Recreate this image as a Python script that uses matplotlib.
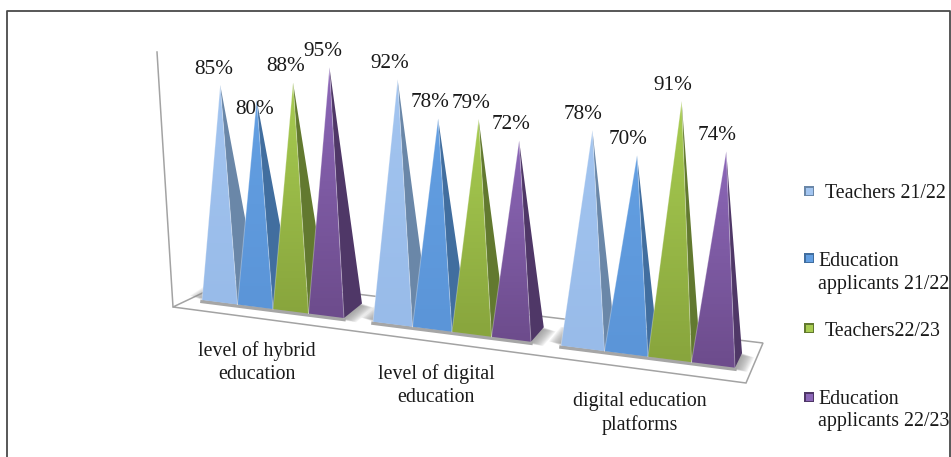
import numpy as np
import matplotlib
matplotlib.use('Agg')
import matplotlib.pyplot as plt
from matplotlib.patches import Polygon, Rectangle

plt.rcParams['font.family'] = ['Liberation Serif', 'DejaVu Serif']

categories = ['level of hybrid\neducation', 'level of digital\neducation',
              'digital education\nplatforms']
series = ['Teachers 21/22', 'Education\napplicants 21/22', 'Teachers22/23',
          'Education\napplicants 22/23']
teachers_2122 = [85, 92, 78]
applicants_2122 = [80, 78, 70]
teachers_2223 = [88, 79, 91]
applicants_2223 = [95, 72, 74]
values = [teachers_2122, applicants_2122, teachers_2223, applicants_2223]

# front colour top, front colour bottom, side
cols = [('#a3c5f0', '#98bbe9', '#6a87a8'),
        ('#639fe2', '#5b95d8', '#416e9f'),
        ('#a8cc51', '#88a53d', '#62792f'),
        ('#8c67b8', '#6d4c8c', '#4f3767')]

W, H = 951, 457


def front_y(x):
    return 300 + (x - 202) * 0.127


def gradient_poly(ax, pts, top, bottom, z):
    # vertical gradient clipped to the polygon
    pts = np.array(pts)
    c = matplotlib.colors.LinearSegmentedColormap.from_list('g', [top, bottom])
    im = ax.imshow(np.linspace(0, 1, 64).reshape(-1, 1), cmap=c, aspect='auto',
                   extent=[pts[:, 0].min(), pts[:, 0].max(), pts[:, 1].max(), pts[:, 1].min()],
                   zorder=z)
    p = Polygon(pts, closed=True, transform=ax.transData, fc='none', ec='none', zorder=z)
    ax.add_patch(p)
    im.set_clip_path(p)


def soft_shadow(ax, corners, z):
    corners = np.array(corners)
    mid = corners.mean(axis=0)
    sign = np.sign(corners - mid)
    for k in range(12, 0, -1):
        ax.add_patch(Polygon(corners + sign * [k, k * 0.35], closed=True,
                             fc='#8c8c8c', ec='none', alpha=0.1, zorder=z))


fig = plt.figure(figsize=(W / 100, H / 100), dpi=100)
ax = fig.add_axes([0, 0, 1, 1])

# outer frame
ax.plot([6.5, 6.5, 950, 950], [H, 11, 11, H], color='#4a4a4a', lw=1.3, zorder=1)

# floor and wall
ax.add_patch(Polygon([(173, 307), (746, 383), (763, 343), (232, 279)], closed=True,
                     fc='white', ec='#a3a3a3', lw=1.1, zorder=2))
ax.plot([157, 173], [52, 307], color='#a3a3a3', lw=1.1, zorder=2)

z = 10
for c in range(len(categories)):
    left = 202 + 171 * c + 8.5 * c * (c - 1)
    w = 35.5 + 4 * c
    edges = [left + w * i for i in range(5)]

    # shadow under the whole group
    x0, x1 = edges[0], edges[-1]
    d0 = 18 - (x0 - 344) * 0.028
    d1 = 18 - (x1 - 344) * 0.028
    soft_shadow(ax, [(x0, front_y(x0)), (x1, front_y(x1)),
                     (x1 + d1, front_y(x1) - 14.5), (x0 + d0, front_y(x0) - 14.5)], 3)
    ax.plot([x0, x1], [front_y(x0) + 1.5, front_y(x1) + 1.5], color='#a6a6a6', lw=2.5, zorder=4)

    for s in range(len(series)):
        xl, xr = edges[s], edges[s + 1]
        yl, yr = front_y(xl), front_y(xr)
        dx = 18 - (xr - 344) * 0.028
        bx, by = xr + dx, yr - 14.5
        cx = (xl + xr) / 2 + dx / 2
        cy = (yl + yr) / 2 - 7.25
        scale = 2.47 + (cx - 230) * 0.00065
        ax_x = cx + (cx - 480) * 0.04
        ax_y = cy - values[s][c] * scale

        col = cols[s]
        ax.add_patch(Polygon([(ax_x, ax_y), (xr, yr), (bx, by)], closed=True,
                             fc=col[2], ec='none', zorder=z))
        gradient_poly(ax, [(ax_x, ax_y), (xl, yl), (xr, yr)], col[0], col[1], z + 1)
        ax.plot([xl, ax_x, xr], [yl, ax_y, yr], color='white', lw=0.7, alpha=0.3, zorder=z + 2)
        z += 3

        # value label above the tip, the 80% one sits lower and touches it
        ly = ax_y - 16
        lx = ax_x - 7 - c
        if values[s][c] == 80:
            ly, lx = ax_y + 9, ax_x - 2
        ax.text(lx, ly, '%d%%' % values[s][c], ha='center', va='center',
                fontsize=15.3, color='#1a1a1a', zorder=500)

# category labels
cat_x = [257, 436, 640]
cat_y = [362.5, 385.5, 413.5]
for x, y, lab in zip(cat_x, cat_y, categories):
    ax.text(x, y, lab, ha='center', va='center', fontsize=14.3, color='#1a1a1a',
            linespacing=1.27, zorder=500)

# legend
leg_y = [191, 258, 328, 397]
leg_tx = [825, 818, 825, 818]
leg_ty = [193, 273, 331, 410.5]
for i in range(4):
    ax.add_patch(Rectangle((804, leg_y[i] - 5), 10, 10, fc=cols[i][2], ec='none', zorder=20))
    ax.add_patch(Rectangle((805.5, leg_y[i] - 3.5), 7, 7, fc=cols[i][0], ec='none', zorder=21))
    ax.text(leg_tx[i], leg_ty[i], series[i], ha='left', va='center', fontsize=14.3,
            color='#1a1a1a', linespacing=1.27, zorder=500)

ax.set_xlim(0, W)
ax.set_ylim(H, 0)
ax.axis('off')
fig.savefig('out.png', dpi=100)
